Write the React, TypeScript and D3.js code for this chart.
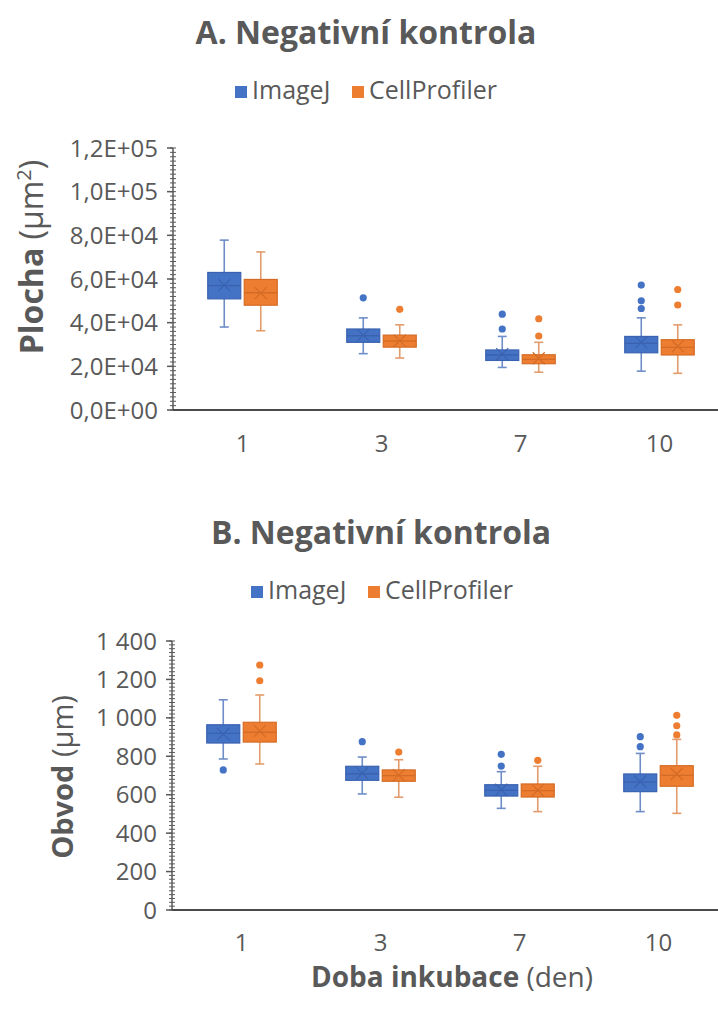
import React from "react";
import * as d3 from "d3";

const days = ["1", "3", "7", "10"];
const seriesNames = ["ImageJ", "CellProfiler"];
const seriesFill = ["#4472C4", "#ED7D31"];
const seriesLine = ["#3A62B0", "#D46C25"];
const whiskerColor = ["#6E8DC9", "#E39B6B"];

// box stats per day: [lower whisker, Q1, median, Q3, upper whisker]
const areaImageJ = [
  [38000, 50900, 57000, 63000, 77800],
  [25800, 31000, 34000, 37100, 42200],
  [19500, 22700, 25200, 27500, 33700],
  [17800, 26200, 30500, 33700, 42200],
];
const areaCellProfiler = [
  [36300, 48000, 53700, 59800, 72400],
  [23800, 28800, 31600, 34300, 39000],
  [17300, 21200, 23200, 25300, 31000],
  [16800, 25200, 28700, 32200, 39000],
];
const areaImageJMean = [57200, 34300, 25600, 31000];
const areaCellProfilerMean = [53500, 31800, 23700, 29200];
const areaImageJOutliers = [[], [51400], [43900, 37100], [57200, 50000, 46500]];
const areaCellProfilerOutliers = [[], [46100], [41800, 33900], [55200, 48100]];
const areaTicks = [0, 20000, 40000, 60000, 80000, 100000, 120000];

const perimImageJ = [
  [786, 869, 919, 964, 1094],
  [604, 675, 709, 748, 796],
  [529, 593, 623, 652, 720],
  [512, 616, 666, 708, 815],
];
const perimCellProfiler = [
  [760, 874, 925, 977, 1119],
  [587, 670, 699, 729, 782],
  [512, 588, 621, 656, 748],
  [503, 644, 701, 751, 888],
];
const perimImageJMean = [915, 712, 626, 668];
const perimCellProfilerMean = [931, 702, 624, 708];
const perimImageJOutliers = [[729], [876], [810, 749], [902, 850]];
const perimCellProfilerOutliers = [[1275, 1193], [822], [779], [1013, 959, 911]];
const perimTicks = [0, 200, 400, 600, 800, 1000, 1200, 1400];

const FONT = "'Open Sans', Lato, sans-serif";
const TEXT = "#595959";

const fmtSci = (v: number) => {
  const [m, e] = v.toExponential(1).split("e");
  return `${m.replace(".", ",")}E${e[0]}${e.slice(1).padStart(2, "0")}`;
};
const fmtSpace = (v: number) => d3.format(",")(v).replace(/,/g, " ");

type PanelProps = {
  title: string;
  titleX: number;
  titleY: number;
  legendX: number;
  legendY: number;
  axisX: number;
  yRange: [number, number];
  ticks: number[];
  fmt: (v: number) => string;
  xLabelY: number;
  yTitle: React.ReactNode;
  yTitleX: number;
  yTitleY: number;
  yTitleSize: number;
  stats: number[][][];
  means: number[][];
  outliers: number[][][];
};

function Panel(p: PanelProps) {
  const max = p.ticks[p.ticks.length - 1];
  const step = p.ticks[1] - p.ticks[0];
  const y = d3.scaleLinear().domain([0, max]).range(p.yRange);
  const x = d3.scaleBand().domain(days).range([p.axisX, p.axisX + 556]);
  const bw = x.bandwidth();
  const x1 = d3
    .scaleBand()
    .domain(seriesNames)
    .range([bw / 2 - 34.75, bw / 2 + 34.75])
    .paddingInner(0.096);
  const boxW = x1.bandwidth();
  const minor = d3.range(0, max + step / 20, step / 10);

  return (
    <g>
      <text
        x={p.titleX}
        y={p.titleY}
        textAnchor="middle"
        fontFamily={FONT}
        fontWeight="bold"
        fontSize={32}
        fill={TEXT}
      >
        {p.title}
      </text>
      {seriesNames.map((s, i) => (
        <g key={s} transform={`translate(${p.legendX + i * 117},${p.legendY})`}>
          <rect x={0} y={-13} width={12} height={12} fill={seriesFill[i]} />
          <text x={17} y={0} fontFamily={FONT} fontSize={25} fill={TEXT}>
            {s}
          </text>
        </g>
      ))}

      {/* y axis */}
      <line x1={p.axisX} x2={p.axisX} y1={y(0)} y2={y(max)} stroke="#595959" strokeWidth={1.5} />
      {minor.map((v) => (
        <line key={"m" + v} x1={p.axisX - 3} x2={p.axisX + 3} y1={y(v)} y2={y(v)} stroke="#595959" strokeWidth={1} />
      ))}
      {p.ticks.map((v) => (
        <g key={v}>
          <line x1={p.axisX - 6} x2={p.axisX} y1={y(v)} y2={y(v)} stroke="#595959" strokeWidth={1.5} />
          <text
            x={p.axisX - 15}
            y={y(v)}
            dy="0.36em"
            textAnchor="end"
            fontFamily={FONT}
            fontSize={24}
            fill={TEXT}
          >
            {p.fmt(v)}
          </text>
        </g>
      ))}
      <text
        transform={`translate(${p.yTitleX},${p.yTitleY}) rotate(-90)`}
        textAnchor="middle"
        fontFamily={FONT}
        fontSize={p.yTitleSize}
        fill={TEXT}
      >
        {p.yTitle}
      </text>

      {/* x axis */}
      <line x1={p.axisX} x2={718} y1={y(0)} y2={y(0)} stroke="#4a4a4a" strokeWidth={2.2} />
      {days.map((d) => (
        <text
          key={d}
          x={(x(d) as number) + bw / 2}
          y={p.xLabelY}
          textAnchor="middle"
          fontFamily={FONT}
          fontSize={24}
          fill={TEXT}
        >
          {d}
        </text>
      ))}

      {/* boxes */}
      {days.map((d, di) =>
        seriesNames.map((s, si) => {
          const [lo, q1, med, q3, hi] = p.stats[si][di];
          const cx = (x(d) as number) + (x1(s) as number) + boxW / 2;
          const m = y(p.means[si][di]);
          return (
            <g key={d + s}>
              <line x1={cx} x2={cx} y1={y(hi)} y2={y(q3)} stroke={whiskerColor[si]} strokeWidth={1.6} />
              <line x1={cx} x2={cx} y1={y(q1)} y2={y(lo)} stroke={whiskerColor[si]} strokeWidth={1.6} />
              <line x1={cx - 4.5} x2={cx + 4.5} y1={y(hi)} y2={y(hi)} stroke={whiskerColor[si]} strokeWidth={1.6} />
              <line x1={cx - 4.5} x2={cx + 4.5} y1={y(lo)} y2={y(lo)} stroke={whiskerColor[si]} strokeWidth={1.6} />
              <rect
                x={cx - boxW / 2}
                y={y(q3)}
                width={boxW}
                height={y(q1) - y(q3)}
                fill={seriesFill[si]}
                stroke={seriesLine[si]}
                strokeWidth={1.2}
              />
              <line x1={cx - boxW / 2} x2={cx + boxW / 2} y1={y(med)} y2={y(med)} stroke={seriesLine[si]} strokeWidth={1.3} />
              <path
                d={`M${cx - 6},${m - 6}L${cx + 6},${m + 6}M${cx - 6},${m + 6}L${cx + 6},${m - 6}`}
                stroke={seriesLine[si]}
                strokeWidth={1.2}
                fill="none"
              />
              {p.outliers[si][di].map((o, oi) => (
                <circle key={oi} cx={cx} cy={y(o)} r={3.6} fill={seriesFill[si]} />
              ))}
            </g>
          );
        })
      )}
    </g>
  );
}

export default function App() {
  return (
    <svg
      width={718}
      height={1009}
      style={{ position: "absolute", left: 0, top: 0, background: "#fff" }}
    >
      <Panel
        title="A. Negativní kontrola"
        titleX={366}
        titleY={44}
        legendX={235}
        legendY={99}
        axisX={173}
        yRange={[410, 148]}
        ticks={areaTicks}
        fmt={fmtSci}
        xLabelY={452}
        yTitle={
          <>
            <tspan fontWeight="bold">Plocha</tspan>
            <tspan> (µm</tspan>
            <tspan fontSize={20} dy={-12}>2</tspan>
            <tspan dy={12}>)</tspan>
          </>
        }
        yTitleX={43}
        yTitleY={257}
        yTitleSize={32}
        stats={[areaImageJ, areaCellProfiler]}
        means={[areaImageJMean, areaCellProfilerMean]}
        outliers={[areaImageJOutliers, areaCellProfilerOutliers]}
      />
      <Panel
        title="B. Negativní kontrola"
        titleX={381}
        titleY={544}
        legendX={251}
        legendY={599}
        axisX={172}
        yRange={[910, 641]}
        ticks={perimTicks}
        fmt={fmtSpace}
        xLabelY={951}
        yTitle={
          <>
            <tspan fontWeight="bold">Obvod</tspan>
            <tspan> (µm)</tspan>
          </>
        }
        yTitleX={73}
        yTitleY={777}
        yTitleSize={29}
        stats={[perimImageJ, perimCellProfiler]}
        means={[perimImageJMean, perimCellProfilerMean]}
        outliers={[perimImageJOutliers, perimCellProfilerOutliers]}
      />
      <text x={452} y={987} textAnchor="middle" fontFamily={FONT} fontSize={28} fill={TEXT}>
        <tspan fontWeight="bold">Doba inkubace</tspan>
        <tspan> (den)</tspan>
      </text>
    </svg>
  );
}
